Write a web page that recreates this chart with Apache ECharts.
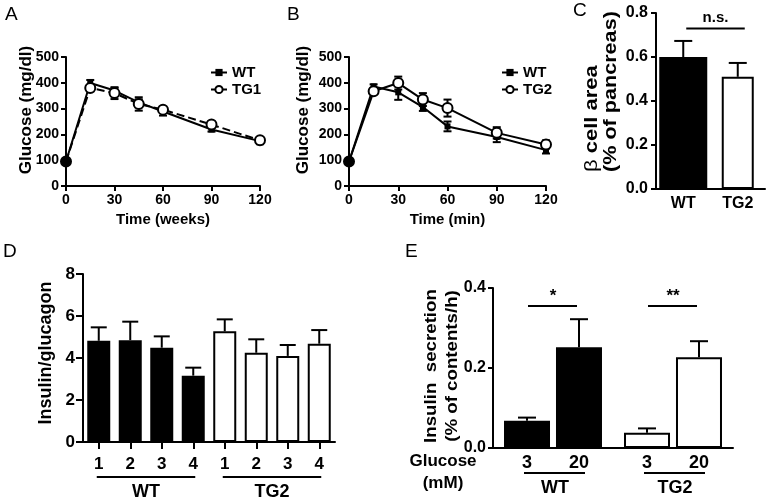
<!DOCTYPE html>
<html><head><meta charset="utf-8">
<script src="https://cdn.jsdelivr.net/npm/echarts@6/dist/echarts.min.js"></script>
<style>html,body{margin:0;padding:0;background:#fff}#c{width:777px;height:501px}</style>
</head><body><div id="c"></div>
<script>
const FONT = '"Liberation Sans", Arial, sans-serif';
// Panel A
const timeA = [0, 15, 30, 45, 60, 90, 120];
const wtA = [95, 399, 370, 324, 289, 219, 174];
const wtAErr = [4, 12, 10, 12, 16, 8, 12];
const tg1A = [95, 380, 360, 318, 296, 238, 177];
const tg1AErr = [4, 10, 23, 26, 10, 8, 10];
// Panel B
const timeB = [0, 15, 30, 45, 60, 90, 120];
const wtB = [95, 386, 363, 306, 231, 190, 139];
const wtBErr = [4, 8, 29, 15, 19, 20, 13];
const tg2B = [95, 367, 399, 335, 302, 206, 161];
const tg2BErr = [4, 10, 25, 25, 33, 22, 16];
// Panel C
const cCats = ['WT', 'TG2'];
const cVals = [0.60, 0.51];
const cErr = [0.073, 0.063];
const cSigLabel = 'n.s.';
const cSigLevel = 0.73;
// Panel D
const dGroups = ['WT', 'TG2'];
const dLabels = ['1', '2', '3', '4'];
const dWT = [4.82, 4.85, 4.49, 3.16];
const dWTErr = [0.64, 0.88, 0.54, 0.38];
const dTG2 = [5.27, 4.25, 4.10, 4.68];
const dTG2Err = [0.57, 0.64, 0.52, 0.65];
// Panel E
const eGroups = ['WT', 'TG2'];
const eGlucose = ['3', '20'];
const e3 = [0.068, 0.038];
const e3Err = [0.008, 0.011];
const e20 = [0.252, 0.227];
const e20Err = [0.070, 0.040];
const eSig = ['*', '**'];
const eSigLevel = 0.355;

const BLACK = '#000';
function axisStyle(fs, margin) {
  return {
    axisLine: { show: true, onZero: false, lineStyle: { color: BLACK, width: 2 } },
    axisTick: { show: true, length: 5, lineStyle: { color: BLACK, width: 2 } },
    axisLabel: { color: BLACK, fontFamily: FONT, fontWeight: 'bold', fontSize: fs, margin: margin },
    splitLine: { show: false }
  };
}
function errItem(capHalf, both) {
  return function (params, api) {
    const x = api.value(0), y = api.value(1), e = api.value(2);
    const top = api.coord([x, y + e]);
    const base = api.coord([x, both ? y - e : y]);
    const st = { stroke: BLACK, lineWidth: 2 };
    const ch = [
      { type: 'line', shape: { x1: top[0], y1: top[1], x2: base[0], y2: base[1] }, style: st },
      { type: 'line', shape: { x1: top[0] - capHalf, y1: top[1], x2: top[0] + capHalf, y2: top[1] }, style: st }
    ];
    if (both) ch.push({ type: 'line', shape: { x1: base[0] - capHalf, y1: base[1], x2: base[0] + capHalf, y2: base[1] }, style: st });
    return { type: 'group', children: ch };
  };
}
function txt(text, x, y, size, opts) {
  opts = opts || {};
  return {
    type: 'text', x: x, y: y, rotation: opts.rot || 0, scaleX: opts.sx || 1, scaleY: 1,
    style: { text: text, align: opts.align || 'center', verticalAlign: 'middle',
      font: (opts.normal ? '' : 'bold ') + size + 'px ' + FONT, fill: BLACK, rich: opts.rich }
  };
}
const ROT = Math.PI / 2;
const whiteBar = { color: '#fff', borderColor: BLACK, borderWidth: 2 };
const blackBar = { color: BLACK };
function lineSeries(name, xi, xs, ys, open, dashed) {
  return {
    name: name, type: 'line', xAxisIndex: xi, yAxisIndex: xi, z: 5,
    data: xs.map((t, i) => (open && i === 0) ? { value: [t, ys[i]], itemStyle: { color: BLACK } } : [t, ys[i]]),
    symbol: open ? 'circle' : 'rect', symbolSize: open ? 10 : 6, showSymbol: true,
    lineStyle: { color: BLACK, width: 2, type: dashed ? 'dashed' : 'solid' },
    itemStyle: open ? { color: '#fff', borderColor: BLACK, borderWidth: 2 } : { color: BLACK }
  };
}
function errSeries(xi, xs, ys, es, cap, both) {
  return {
    type: 'custom', xAxisIndex: xi, yAxisIndex: xi, z: 4,
    data: xs.map((t, i) => [t, ys[i], es[i]]),
    encode: { x: 0, y: 1 }, renderItem: errItem(cap, both)
  };
}

const chart = echarts.init(document.getElementById('c'), null, { renderer: 'canvas' });
const dCats = dGroups.flatMap(g => dLabels.map(l => g + '-' + l));
const dVals = dWT.concat(dTG2);
const dErrs = dWTErr.concat(dTG2Err);

const option = {
  animation: false,
  backgroundColor: '#fff',
  grid: [
    { left: 66, top: 57, width: 194, height: 129 },
    { left: 349, top: 57, width: 197, height: 129 },
    { left: 656, top: 13, width: 109, height: 176 },
    { left: 83, top: 274, width: 252, height: 168 },
    { left: 493, top: 288, width: 240, height: 160 }
  ],
  xAxis: [
    Object.assign({ gridIndex: 0, type: 'value', min: 0, max: 120, interval: 30, name: 'Time (weeks)', nameLocation: 'middle', nameGap: 26,
      nameTextStyle: { fontFamily: FONT, fontWeight: 'bold', fontSize: 15, color: BLACK } }, axisStyle(14, 7)),
    Object.assign({ gridIndex: 1, type: 'value', min: 0, max: 120, interval: 30, name: 'Time (min)', nameLocation: 'middle', nameGap: 26,
      nameTextStyle: { fontFamily: FONT, fontWeight: 'bold', fontSize: 15, color: BLACK } }, axisStyle(14, 7)),
    Object.assign({ gridIndex: 2, type: 'category', data: cCats }, axisStyle(16, 7), { axisTick: { show: false } }),
    Object.assign({ gridIndex: 3, type: 'category', data: dCats }, axisStyle(17, 14),
      { axisTick: { show: true, alignWithLabel: true, length: 7, lineStyle: { color: BLACK, width: 2 } },
        axisLabel: { color: BLACK, fontFamily: FONT, fontWeight: 'bold', fontSize: 17, margin: 14, formatter: v => v.split('-')[1] } }),
    Object.assign({ gridIndex: 4, type: 'category', data: eGroups }, axisStyle(16, 8), { axisTick: { show: false }, axisLabel: { show: false } }),
    { gridIndex: 2, type: 'category', data: cCats, show: false }
  ],
  yAxis: [
    Object.assign({ gridIndex: 0, type: 'value', min: 0, max: 500, interval: 100 }, axisStyle(14, 7)),
    Object.assign({ gridIndex: 1, type: 'value', min: 0, max: 500, interval: 100 }, axisStyle(14, 7)),
    Object.assign({ gridIndex: 2, type: 'value', min: 0, max: 0.8, interval: 0.2 }, axisStyle(16, 8),
      { axisLabel: { color: BLACK, fontFamily: FONT, fontWeight: 'bold', fontSize: 16, margin: 8, formatter: v => v.toFixed(1) } }),
    Object.assign({ gridIndex: 3, type: 'value', min: 0, max: 8, interval: 2 }, axisStyle(17, 8), { axisTick: { show: true, length: 7, lineStyle: { color: BLACK, width: 2 } } }),
    Object.assign({ gridIndex: 4, type: 'value', min: 0, max: 0.4, interval: 0.2 }, axisStyle(16, 7),
      { axisLabel: { color: BLACK, fontFamily: FONT, fontWeight: 'bold', fontSize: 16, margin: 7, formatter: v => v.toFixed(1) } })
  ],
  legend: [
    { data: ['WT', 'TG1'], left: 205, top: 60, orient: 'vertical', itemWidth: 16, itemHeight: 9, itemGap: 2, selectedMode: false,
      textStyle: { fontFamily: FONT, fontWeight: 'bold', fontSize: 15, color: BLACK } },
    { data: ['WT', 'TG2'], left: 496, top: 60, orient: 'vertical', itemWidth: 16, itemHeight: 9, itemGap: 2, selectedMode: false,
      textStyle: { fontFamily: FONT, fontWeight: 'bold', fontSize: 15, color: BLACK } }
  ],
  graphic: [
    txt('A', 5, 15, 19, { normal: true, align: 'left' }),
    txt('B', 287, 15, 19, { normal: true, align: 'left' }),
    txt('C', 573, 11, 19, { normal: true, align: 'left' }),
    txt('D', 3, 252, 19, { normal: true, align: 'left' }),
    txt('E', 405, 252, 19, { normal: true, align: 'left' }),
    txt('Glucose (mg/dl)', 26, 110, 17, { rot: ROT, sx: 1.0 }),
    txt('Glucose (mg/dl)', 303, 110, 17, { rot: ROT, sx: 1.0 }),
    txt('{b|β} cell area', 592, 172, 18, { rot: ROT, sx: 1.22, align: 'left',
      rich: { b: { fontFamily: FONT, fontWeight: 'normal', fontSize: 18 } } }),
    txt('(% of pancreas)', 611, 172, 18, { rot: ROT, sx: 1.2, align: 'left' }),
    txt('Insulin/glucagon', 46, 353, 18, { rot: ROT, sx: 1.0 }),
    txt('Insulin  secretion', 431, 366, 17, { rot: ROT, sx: 1.1 }),
    txt('(% of contents/h)', 452, 366, 17, { rot: ROT, sx: 1.1 }),
    txt('Glucose', 443, 461, 17),
    txt('(mM)', 443, 483, 17)
  ],
  series: [
    // Panel A
    errSeries(0, timeA, wtA, wtAErr, 4, true),
    errSeries(0, timeA, tg1A, tg1AErr, 4, true),
    lineSeries('WT', 0, timeA, wtA, false, false),
    lineSeries('TG1', 0, timeA, tg1A, true, true),
    // Panel B
    errSeries(1, timeB, wtB, wtBErr, 4, true),
    errSeries(1, timeB, tg2B, tg2BErr, 4, true),
    lineSeries('WT', 1, timeB, wtB, false, false),
    lineSeries('TG2', 1, timeB, tg2B, true, false),
    // Panel C
    { type: 'bar', xAxisIndex: 2, yAxisIndex: 2, barWidth: 48, data: cVals.map((v, i) => i === 0 ? v : '-'), itemStyle: blackBar },
    { type: 'bar', xAxisIndex: 5, yAxisIndex: 2, barWidth: 32, data: cVals.map((v, i) => i === 1 ? v : '-'), itemStyle: whiteBar },
    { type: 'custom', xAxisIndex: 2, yAxisIndex: 2, z: 4, encode: { x: 0, y: 1 },
      data: cCats.map((c, i) => [i, cVals[i], cErr[i]]), renderItem: errItem(9, false) },
    { type: 'custom', xAxisIndex: 2, yAxisIndex: 2, z: 4, encode: { x: [0, 1], y: 2 }, data: [[0, 1, cSigLevel]],
      renderItem: function (params, api) {
        const a = api.coord([api.value(0), api.value(2)]), b = api.coord([api.value(1), api.value(2)]);
        return { type: 'group', children: [
          { type: 'line', shape: { x1: a[0] + 3, y1: a[1], x2: b[0] + 7, y2: b[1] }, style: { stroke: BLACK, lineWidth: 2 } },
          { type: 'text', x: (a[0] + b[0]) / 2 + 5, y: a[1] - 11, style: { text: cSigLabel, align: 'center', verticalAlign: 'middle', font: 'bold 15px ' + FONT, fill: BLACK } }
        ] };
      } },
    // Panel D
    { type: 'bar', xAxisIndex: 3, yAxisIndex: 3, barWidth: 23,
      data: dVals.map((v, i) => ({ value: v, itemStyle: i < dWT.length ? blackBar : whiteBar })) },
    { type: 'custom', xAxisIndex: 3, yAxisIndex: 3, z: 4, encode: { x: 0, y: 1 },
      data: dVals.map((v, i) => [i, v, dErrs[i]]), renderItem: errItem(8, false) },
    { type: 'custom', xAxisIndex: 3, yAxisIndex: 3, z: 4, encode: { x: [0, 1], y: 2 },
      data: dGroups.map((g, gi) => [gi * dLabels.length, gi * dLabels.length + dLabels.length - 1, 0]),
      renderItem: function (params, api) {
        const a = api.coord([api.value(0), 0]), b = api.coord([api.value(1), 0]);
        const y = a[1] + 35;
        return { type: 'group', children: [
          { type: 'line', shape: { x1: a[0] - 2, y1: y, x2: b[0] + 2, y2: y }, style: { stroke: BLACK, lineWidth: 2 } },
          { type: 'text', x: (a[0] + b[0]) / 2, y: y + 15, style: { text: dGroups[params.dataIndex], align: 'center', verticalAlign: 'middle', font: 'bold 18px ' + FONT, fill: BLACK } }
        ] };
      } },
    // Panel E
    { type: 'bar', xAxisIndex: 4, yAxisIndex: 4, barWidth: 46, barGap: '13%',
      data: e3.map((v, i) => ({ value: v, itemStyle: i === 0 ? blackBar : whiteBar })),
      label: { show: true, position: 'bottom', distance: 6, formatter: () => eGlucose[0], color: BLACK, fontFamily: FONT, fontWeight: 'bold', fontSize: 18 } },
    { type: 'bar', xAxisIndex: 4, yAxisIndex: 4, barWidth: 46, barGap: '13%',
      data: e20.map((v, i) => ({ value: v, itemStyle: i === 0 ? blackBar : whiteBar })),
      label: { show: true, position: 'bottom', distance: 6, formatter: () => eGlucose[1], color: BLACK, fontFamily: FONT, fontWeight: 'bold', fontSize: 18 } },
    { type: 'custom', xAxisIndex: 4, yAxisIndex: 4, z: 4, encode: { x: 0, y: 1 },
      data: eGroups.map((g, i) => [i, e3[i], e3Err[i]]),
      renderItem: function (params, api) {
        const r = errItem(9, false)(params, api);
        r.x = -26; return r;
      } },
    { type: 'custom', xAxisIndex: 4, yAxisIndex: 4, z: 4, encode: { x: 0, y: 1 },
      data: eGroups.map((g, i) => [i, e20[i], e20Err[i]]),
      renderItem: function (params, api) {
        const r = errItem(9, false)(params, api);
        r.x = 26; return r;
      } },
    { type: 'custom', xAxisIndex: 4, yAxisIndex: 4, z: 4, encode: { x: 0, y: 1 },
      data: eGroups.map((g, i) => [i, eSigLevel]),
      renderItem: function (params, api) {
        const c = api.coord([api.value(0), api.value(1)]);
        const base = api.coord([api.value(0), 0]);
        const uy = base[1] + 25;
        return { type: 'group', children: [
          { type: 'line', shape: { x1: c[0] - 25, y1: c[1], x2: c[0] + 24, y2: c[1] }, style: { stroke: BLACK, lineWidth: 2 } },
          { type: 'text', x: c[0], y: c[1] - 10, style: { text: eSig[params.dataIndex], align: 'center', verticalAlign: 'middle', font: 'bold 17px ' + FONT, fill: BLACK } },
          { type: 'line', shape: { x1: base[0] - 29, y1: uy, x2: base[0] + 32, y2: uy }, style: { stroke: BLACK, lineWidth: 2 } },
          { type: 'text', x: base[0] + 2, y: uy + 15, style: { text: eGroups[params.dataIndex], align: 'center', verticalAlign: 'middle', font: 'bold 18px ' + FONT, fill: BLACK } }
        ] };
      } }
  ]
};
chart.setOption(option);
</script>
</body></html>
